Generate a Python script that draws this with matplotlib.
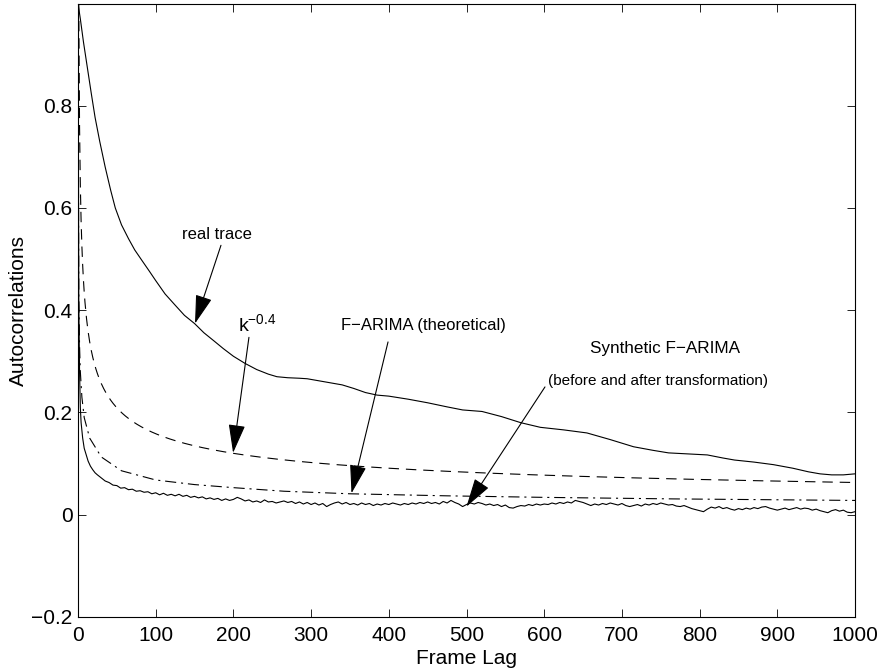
import numpy as np
import matplotlib
matplotlib.use('Agg')
import matplotlib.pyplot as plt

plt.rcParams['font.family'] = ['Liberation Sans', 'DejaVu Sans']
plt.rcParams['font.size'] = 15
plt.rcParams['lines.scale_dashes'] = False

# Autocorrelation of the real trace
real_lags = [0, 3, 7, 12, 17, 22, 28, 35, 42, 48, 56, 65, 73, 82, 92, 100,
             112, 125, 137, 150, 162, 175, 187, 200, 215, 230, 245, 256, 270,
             285, 295, 310, 325, 340, 355, 370, 385, 400, 425, 450, 475, 495,
             520, 545, 570, 595, 625, 655, 685, 715, 740, 760, 785, 810, 830,
             845, 870, 895, 920, 940, 955, 970, 985, 1000]
real_acf = [1.0, 0.97, 0.925, 0.875, 0.825, 0.777, 0.73, 0.68, 0.635, 0.6,
            0.567, 0.54, 0.518, 0.498, 0.476, 0.458, 0.432, 0.41, 0.39, 0.374,
            0.356, 0.34, 0.325, 0.31, 0.296, 0.284, 0.275, 0.27, 0.268, 0.267,
            0.266, 0.262, 0.258, 0.254, 0.247, 0.239, 0.234, 0.232, 0.226,
            0.219, 0.211, 0.205, 0.202, 0.192, 0.18, 0.171, 0.166, 0.16,
            0.147, 0.133, 0.126, 0.121, 0.119, 0.117, 0.111, 0.107, 0.103,
            0.098, 0.091, 0.084, 0.08, 0.078, 0.078, 0.08]

# Power law reference k^-0.4
power_exponent = 0.4

# Theoretical F-ARIMA autocorrelation
farima_lags = [0, 1, 2, 3, 5, 8, 15, 30, 56, 100, 150, 200, 265, 350, 475,
               600, 766, 1000]
farima_acf = [1.0, 0.43, 0.33, 0.28, 0.23, 0.19, 0.15, 0.113, 0.086, 0.068,
              0.059, 0.053, 0.046, 0.041, 0.037, 0.034, 0.031, 0.028]

# Sample autocorrelation of the synthetic F-ARIMA trace
synth_head_lags = [0, 1, 2, 3, 4, 6, 8, 10, 13, 16, 19, 22]
synth_head_acf = [1.0, 0.42, 0.28, 0.21, 0.18, 0.15, 0.13, 0.12, 0.105, 0.095,
                  0.088, 0.082]
synth_step = 5
synth_acf = [
    0.078, 0.072, 0.066, 0.063, 0.058, 0.057, 0.052, 0.053, 0.049, 0.050,
    0.046, 0.047, 0.044, 0.045, 0.041, 0.043, 0.039, 0.042, 0.038, 0.040,
    0.037, 0.040, 0.036, 0.038, 0.034, 0.036, 0.033, 0.035, 0.031, 0.033,
    0.030, 0.032, 0.028, 0.031, 0.028, 0.030, 0.034, 0.031, 0.027, 0.029,
    0.025, 0.027, 0.024, 0.029, 0.025, 0.026, 0.023, 0.025, 0.027, 0.024,
    0.026, 0.022, 0.025, 0.021, 0.024, 0.020, 0.023, 0.019, 0.022, 0.016,
    0.020, 0.023, 0.025, 0.021, 0.024, 0.020, 0.022, 0.019, 0.023, 0.020,
    0.022, 0.018, 0.021, 0.019, 0.022, 0.020, 0.023, 0.021, 0.019, 0.022,
    0.020, 0.023, 0.021, 0.024, 0.022, 0.025, 0.022, 0.024, 0.021, 0.026,
    0.023, 0.028, 0.024, 0.021, 0.016, 0.020, 0.023, 0.021, 0.024, 0.022,
    0.019, 0.021, 0.018, 0.020, 0.016, 0.019, 0.014, 0.013, 0.016, 0.018,
    0.017, 0.020, 0.018, 0.021, 0.019, 0.021, 0.020, 0.023, 0.021, 0.024,
    0.022, 0.025, 0.023, 0.028, 0.026, 0.024, 0.021, 0.018, 0.021, 0.019,
    0.022, 0.020, 0.023, 0.021, 0.019, 0.022, 0.018, 0.016, 0.018, 0.020,
    0.017, 0.021, 0.019, 0.022, 0.020, 0.023, 0.021, 0.019, 0.020, 0.017,
    0.016, 0.018, 0.015, 0.012, 0.010, 0.008, 0.006, 0.011, 0.015, 0.013,
    0.016, 0.012, 0.014, 0.011, 0.009, 0.012, 0.010, 0.013, 0.011, 0.014,
    0.012, 0.015, 0.016, 0.013, 0.011, 0.009, 0.011, 0.013, 0.010, 0.012,
    0.014, 0.011, 0.013, 0.012, 0.009, 0.011, 0.008, 0.006, 0.004, 0.008,
    0.010, 0.007, 0.009, 0.005, 0.004, 0.006,
]

x_ticks = [0, 100, 200, 300, 400, 500, 600, 700, 800, 900, 1000]
y_ticks = [-0.2, 0, 0.2, 0.4, 0.6, 0.8]

fig = plt.figure(figsize=(8.81, 6.70), dpi=100)
ax = fig.add_axes([78 / 881, 53 / 670, 777 / 881, 613 / 670])

lw = 0.8
ax.plot(real_lags, real_acf, color='k', lw=lw)

k = np.arange(1, 1001)
ax.plot(k, k ** -power_exponent, color='k', lw=lw, linestyle=(0, (7.5, 5)))

ax.plot(farima_lags, farima_acf, color='k', lw=lw,
        linestyle=(0, (8, 3.5, 1.5, 3.5)))

synth_lags = np.concatenate([synth_head_lags,
                             25 + synth_step * np.arange(len(synth_acf))])
synth_vals = np.concatenate([synth_head_acf, synth_acf])
ax.plot(synth_lags, synth_vals, color='k', lw=lw)

ax.set_xlim(0, 1000)
ax.set_ylim(-0.2, 0.999)
ax.set_xticks(x_ticks)
ax.set_yticks(y_ticks)
ax.set_yticklabels(['\u22120.2', '0', '0.2', '0.4', '0.6', '0.8'])
ax.tick_params(direction='in', length=6, width=0.6, top=True, right=True,
               labelsize=15)
ax.tick_params(axis='x', pad=6.5)
ax.tick_params(axis='y', pad=4)
for s in ax.spines.values():
    s.set_linewidth(0.8)

ax.set_xlabel('Frame Lag', labelpad=3)
ax.set_ylabel('Autocorrelations', labelpad=2)

arrow = dict(arrowstyle='-|>,head_length=1.2,head_width=0.35',
             color='k', lw=0.8, shrinkA=0, shrinkB=0)

ax.text(179, 0.549, 'real trace', ha='center', va='center', fontsize=12)
ax.annotate('', xy=(150.6, 0.374), xytext=(184, 0.527), arrowprops=arrow)

ax.text(231, 0.372, r'$\mathregular{k^{-0.4}}$', ha='center', va='center',
        fontsize=14)
ax.annotate('', xy=(199.6, 0.121), xytext=(220, 0.347), arrowprops=arrow)

ax.text(444, 0.371, 'F\u2212ARIMA (theoretical)', ha='center', va='center',
        fontsize=12)
ax.annotate('', xy=(352, 0.042), xytext=(399, 0.338), arrowprops=arrow)

ax.text(755, 0.326, 'Synthetic F\u2212ARIMA', ha='center', va='center',
        fontsize=12.3)
ax.text(747, 0.262, '(before and after transformation)', ha='center',
        va='center', fontsize=11)
ax.annotate('', xy=(500, 0.016), xytext=(601, 0.25), arrowprops=arrow)

fig.savefig('out.png', dpi=100)
